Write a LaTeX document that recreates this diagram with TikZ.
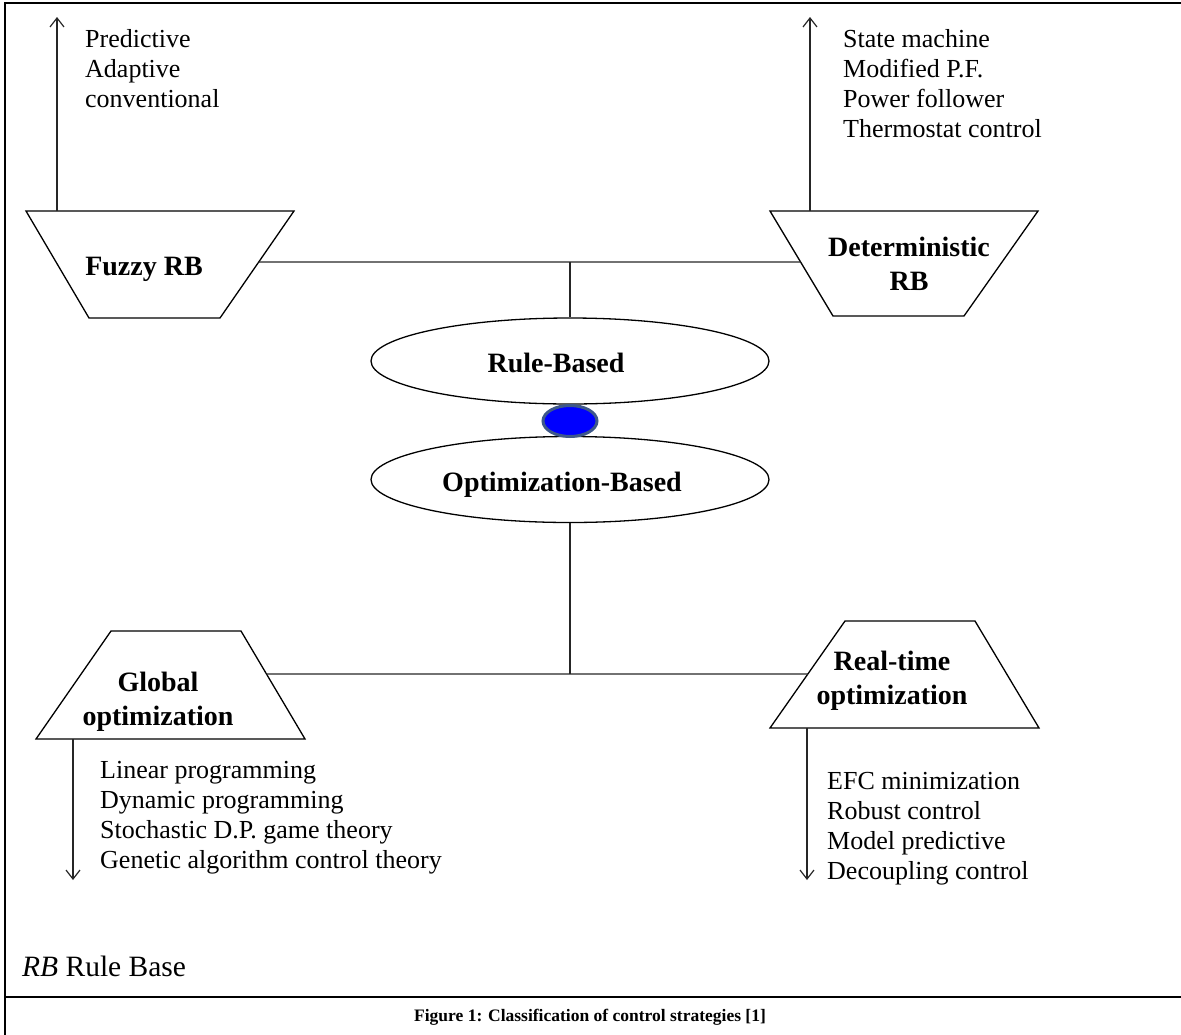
\documentclass[tikz,border=0pt]{standalone}
\usepackage{fontspec}
\setmainfont{Liberation Serif}
\usetikzlibrary{shapes.geometric,arrows.meta,calc}
\definecolor{hubedge}{RGB}{62,88,138}
\begin{document}
\begin{tikzpicture}[x=1pt,y=-1pt,
  shapeline/.style={draw=black,line width=1.3pt,line join=miter},
  link/.style={draw=black!85,line width=1.3pt},
  barb/.style={link,-{Straight Barb[length=9pt,width=14pt,line width=1.2pt]}},
  boldlabel/.style={font=\fontsize{28}{34}\selectfont\bfseries,align=center,inner sep=0,anchor=base},
  itemlist/.style={font=\fontsize{26}{30}\selectfont,align=left,inner sep=0,anchor=base west},
  oval/.style={ellipse,shapeline,minimum width=398pt,minimum height=86pt,inner sep=0}]
\useasboundingbox (0,0) rectangle (1181,1034);

% frame
\draw[line width=2.5pt] (1190,3) -- (5,3) -- (5,1040);
\draw[line width=2.5pt] (5,997) -- (1190,997);

% rule-based branch: two inverted trapezoids
\draw[shapeline] (26,211) coordinate (fz-tl) -- (294,211) coordinate (fz-tr)
  -- (220,318) coordinate (fz-br) -- (89,318) coordinate (fz-bl) -- cycle;
\draw[shapeline] (770,211) coordinate (dt-tl) -- (1038,211) coordinate (dt-tr)
  -- (964,316) coordinate (dt-br) -- (833,316) coordinate (dt-bl) -- cycle;

% (the base anchor of a multi-line node sits on its last line)
\node[boldlabel] (fz-text) at (144,275) {Fuzzy RB};
\node[boldlabel] (dt-text) at (909,290) {Deterministic\\RB};

% optimization branch: two upright trapezoids
\draw[shapeline] (111,631) coordinate (gl-tl) -- (241,631) coordinate (gl-tr)
  -- (305,739) coordinate (gl-br) -- (36,739) coordinate (gl-bl) -- cycle;
\draw[shapeline] (845,621) coordinate (rt-tl) -- (975,621) coordinate (rt-tr)
  -- (1039,728) coordinate (rt-br) -- (770,728) coordinate (rt-bl) -- cycle;

\node[boldlabel] (gl-text) at (158,725) {Global\\optimization};
\node[boldlabel] (rt-text) at (892,704) {Real-time\\optimization};

% central ovals and hub
\node[oval] (rb) at (570,361) {};
\node[oval] (ob) at (570,479.5) {};
\node[boldlabel] (rb-text) at (556,372) {Rule-Based};
\node[boldlabel] (ob-text) at (562,491) {Optimization-Based};
\node[ellipse,fill=blue,draw=hubedge,line width=3pt,minimum width=54pt,
  minimum height=31pt,inner sep=0] (hub) at (570,421) {};

% connectors
\coordinate (fz-port) at ($(fz-tr)!0.477!(fz-br)$);
\coordinate (dt-port) at ($(dt-tl)!0.486!(dt-bl)$);
\coordinate (top-joint) at (rb.north |- fz-port);
\draw[link] (fz-port) -- (dt-port);
\draw[link] (top-joint) -- (rb.north);

\coordinate (gl-port) at ($(gl-tr)!0.398!(gl-br)$);
\coordinate (rt-port) at ($(rt-tl)!0.495!(rt-bl)$);
\coordinate (bottom-joint) at (ob.south |- gl-port);
\draw[link] (gl-port) -- (rt-port);
\draw[link] (ob.south) -- (bottom-joint);

% arrows to the strategy lists
\coordinate (fz-foot) at (57,211);
\coordinate (fz-head) at (57,17);
\coordinate (dt-foot) at (810,211);
\coordinate (dt-head) at (810,17);
\coordinate (gl-foot) at (73,739);
\coordinate (gl-head) at (73,880);
\coordinate (rt-foot) at (807,728);
\coordinate (rt-head) at (807,880);
\draw[barb] (fz-foot) -- (fz-head);
\draw[barb] (dt-foot) -- (dt-head);
\draw[barb] (gl-foot) -- (gl-head);
\draw[barb] (rt-foot) -- (rt-head);

% strategy lists
\node[itemlist] (fz-list) at (85,107) {Predictive\\Adaptive\\conventional};
\node[itemlist] (dt-list) at (843,137) {State machine\\Modified P.F.\\Power follower\\Thermostat control};
\node[itemlist] (gl-list) at (100,868) {Linear programming\\Dynamic programming\\Stochastic D.P. game theory\\Genetic algorithm control theory};
\node[itemlist] (rt-list) at (827,879) {EFC minimization\\Robust control\\Model predictive\\Decoupling control};

% legend and caption
\node[anchor=base west,inner sep=0,font=\fontsize{29.5}{32}\selectfont] (legend) at (22,976) {\textit{RB} Rule Base};
\node[anchor=base,inner sep=0,font=\fontsize{17.5}{20}\selectfont\bfseries] (caption) at (590,1021) {Figure 1: Classification of control strategies [1]};
\end{tikzpicture}
\end{document}
